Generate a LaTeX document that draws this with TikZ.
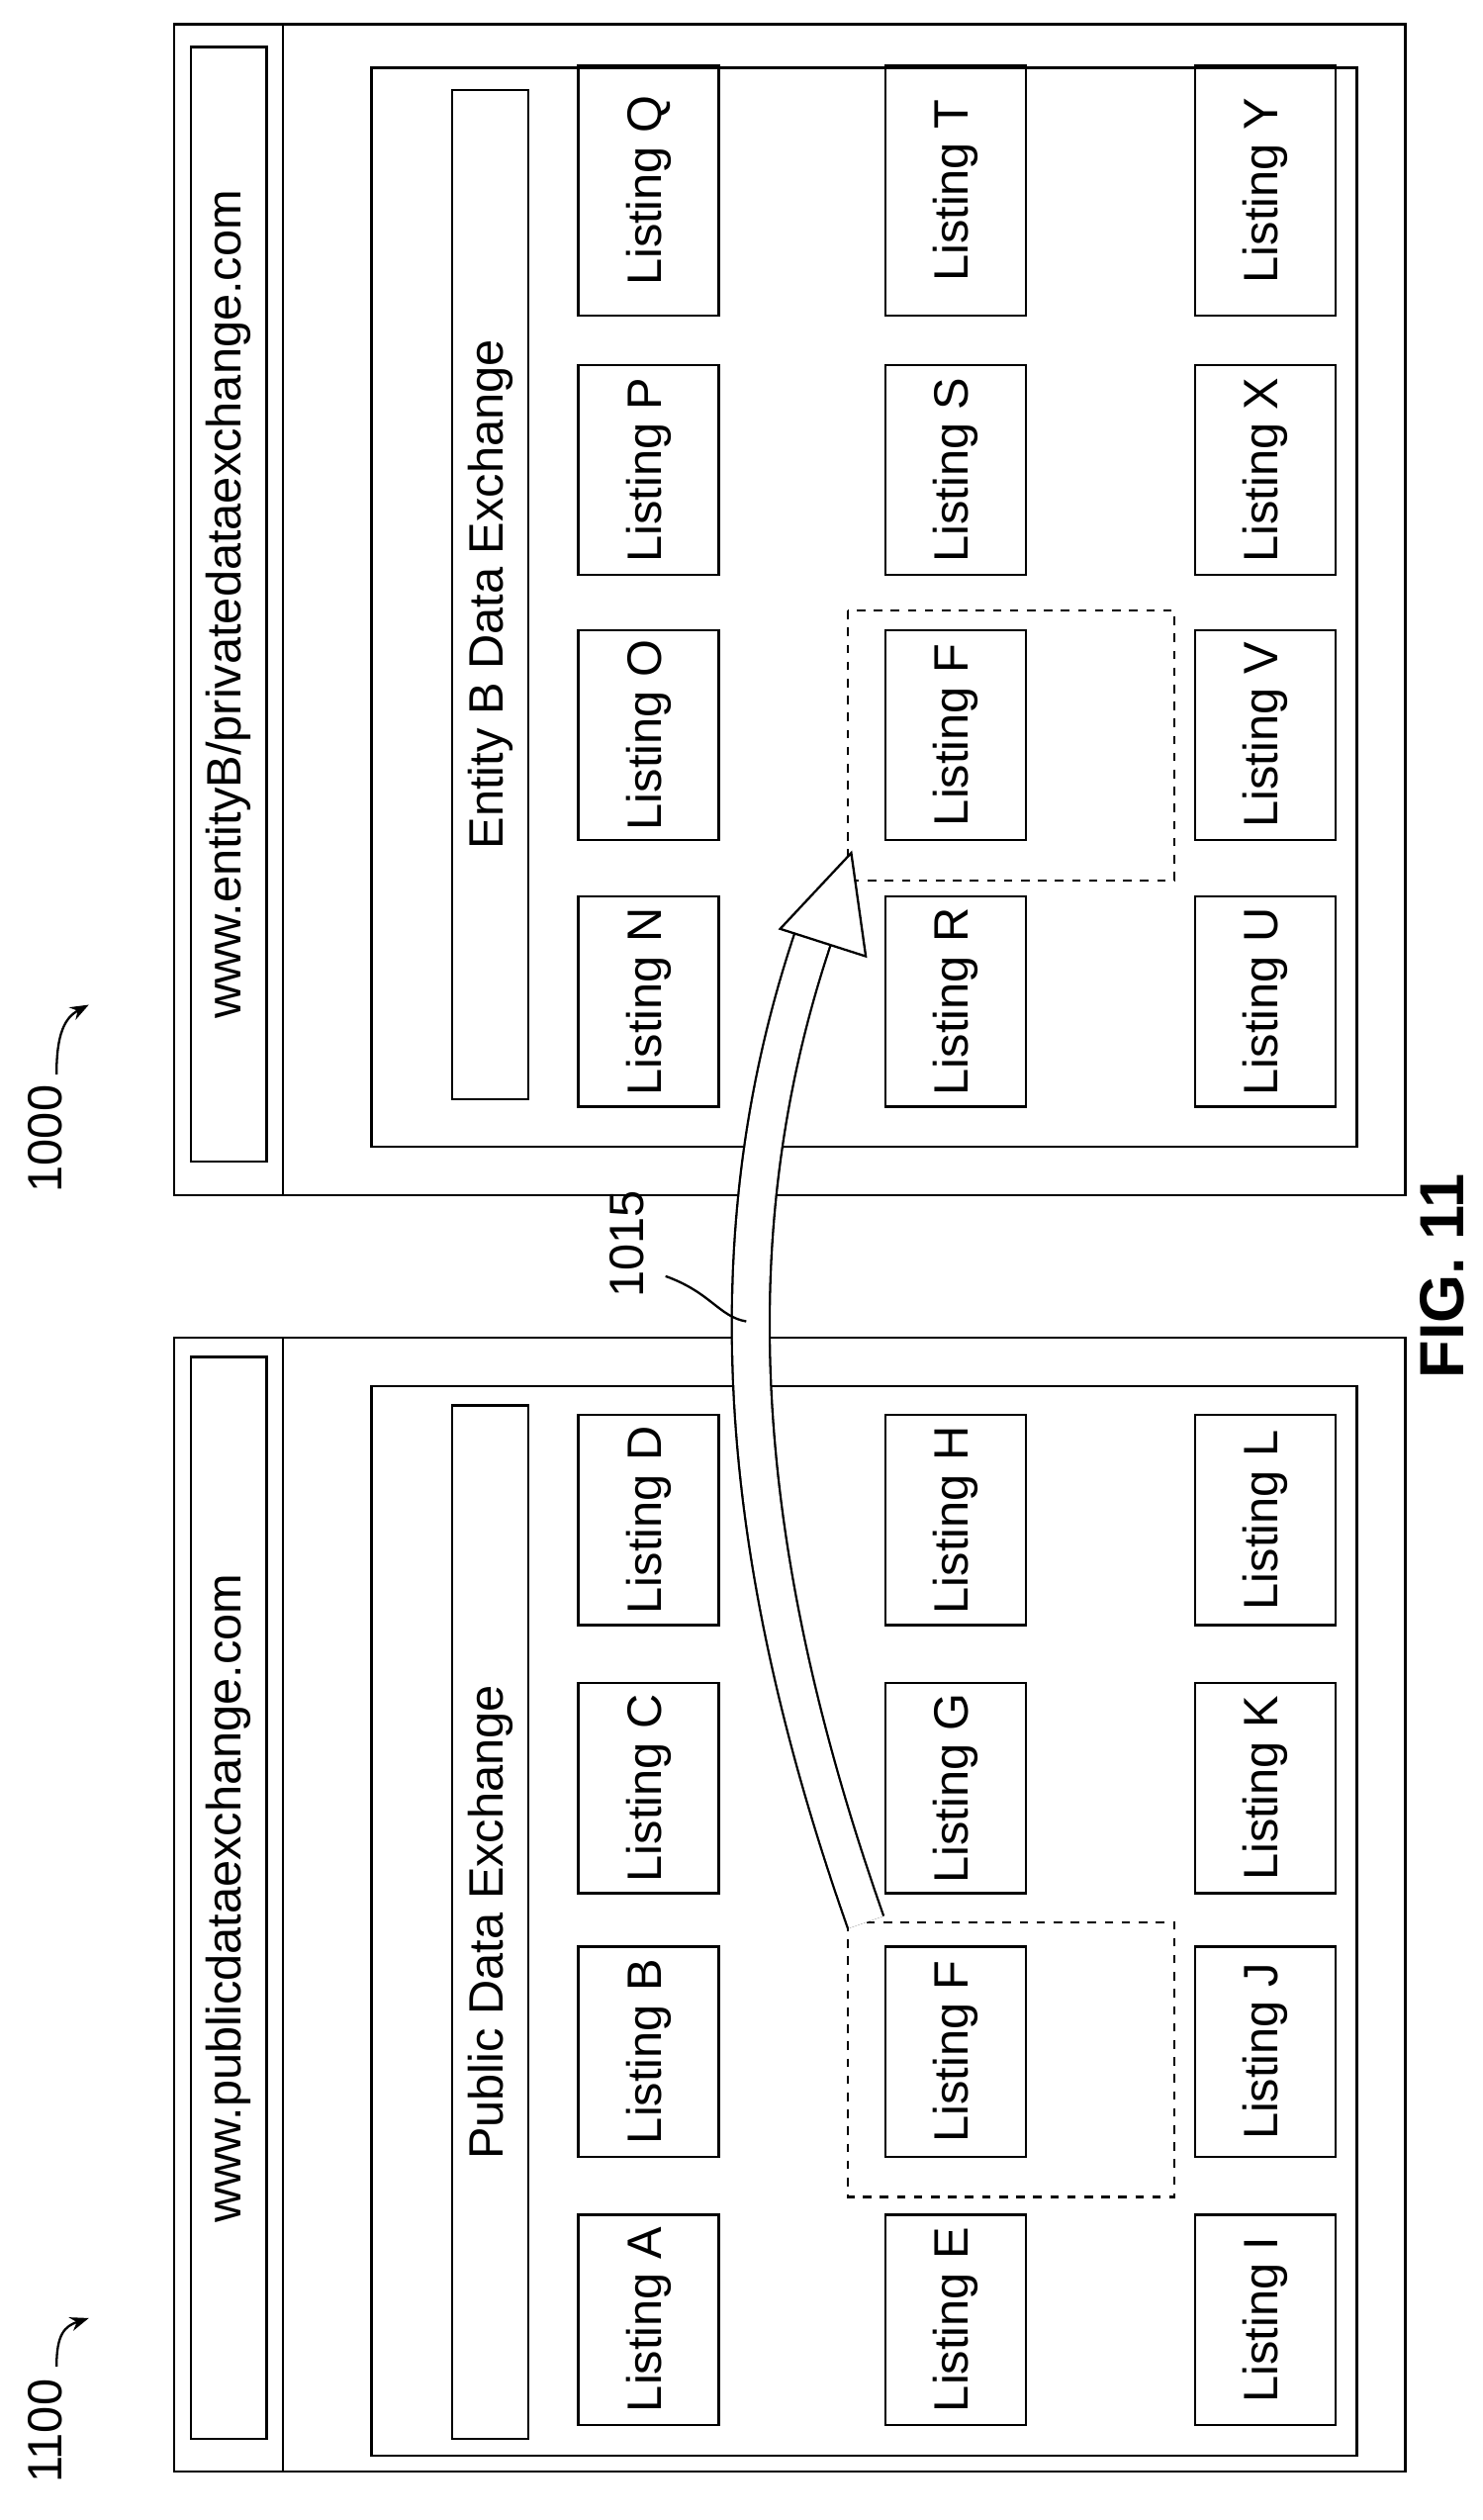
\documentclass[tikz,border=0pt]{standalone}
\usepackage{fontspec}
\setmainfont{Liberation Sans}
\usetikzlibrary{positioning,arrows.meta}
\tikzset{
	listing/.style = {draw, thick, rotate=90, minimum width=2.6cm, minimum height=1.74cm,
		font=\fontsize{17}{20}\selectfont},
	bar/.style     = {draw, thick, rotate=90, minimum height=0.94cm,
		font=\fontsize{17}{20}\selectfont},
	pick/.style    = {draw, thick, dashed},
	panel/.style   = {draw, thick}
}
\begin{document}
\begin{tikzpicture}[x=0.02cm, y=-0.02cm, >=Stealth]
	\useasboundingbox (0,0) rectangle (918,1560);
	% left panel
	\draw[panel] (108,828) rectangle (870,1530);
	\draw[panel] (175,828) -- (175,1530);
	\draw[panel] (230,858) rectangle (840,1520);
	\node[bar, minimum width=13.4cm] (urlA) at (141.5,1175) {www.publicdataexchange.com};
	\node[bar, minimum width=12.8cm] (titleA) at (303.5,1190) {Public Data Exchange};
	\foreach \n/\x/\y in {A/401.5/1436, B/401.5/1270, C/401.5/1107, D/401.5/941,
		E/591.5/1436, F/591.5/1270, G/591.5/1107, H/591.5/941,
		I/783.5/1436, J/783.5/1270, K/783.5/1107, L/783.5/941}
		\node[listing] (l\n) at (\x,\y) {Listing \n};
	\draw[pick] (525,1190) rectangle (727,1360);
	% right panel
	\draw[panel] (108,15) rectangle (870,740);
	\draw[panel] (175,15) -- (175,740);
	\draw[panel] (230,42) rectangle (840,710);
	\node[bar, minimum width=13.8cm] (urlB) at (141.5,374) {www.entityB/privatedataexchange.com};
	\node[bar, minimum width=12.5cm] (titleB) at (303.5,368) {Entity B Data Exchange};
	\foreach \n/\x/\y in {N/401.5/620, O/401.5/455, P/401.5/291,
		R/591.5/620, F/591.5/455, S/591.5/291,
		U/783.5/620, V/783.5/455, X/783.5/291}
		\node[listing] (r\n) at (\x,\y) {Listing \n};
	\foreach \n/\x in {Q/401.5, T/591.5, Y/783.5}
		\node[listing, minimum width=3.1cm] (r\n) at (\x,118) {Listing \n};
	\draw[pick] (525,378) rectangle (727,545);
	% copy arrow
	\coordinate (from) at (536,1190);
	\coordinate (to) at (507,570);
	\draw[thick, double=white, double distance=0.44cm] (from) .. controls (455,960) and (440,760) .. (to);
	\draw[thick, fill=white] (483,575) -- (527,528) -- (536,592) -- cycle;
	\node[rotate=90, font=\fontsize{17}{20}\selectfont] (n1015) at (388,770) {1015};
	\draw[thick] (412,790) .. controls (440,800) and (445,815) .. (462,818);
	% reference labels
	\node[rotate=90, font=\fontsize{17}{20}\selectfont] (n1100) at (28,1505) {1100};
	\draw[thick, ->] (35,1465) .. controls (35,1445) and (40,1440) .. (55,1435);
	\node[rotate=90, font=\fontsize{17}{20}\selectfont] (n1000) at (28,705) {1000};
	\draw[thick, ->] (35,665) .. controls (35,640) and (40,630) .. (55,622);
	\node[rotate=90, font=\bfseries\fontsize{22}{26}\selectfont] (fig) at (893,790) {FIG. 11};
\end{tikzpicture}
\end{document}
